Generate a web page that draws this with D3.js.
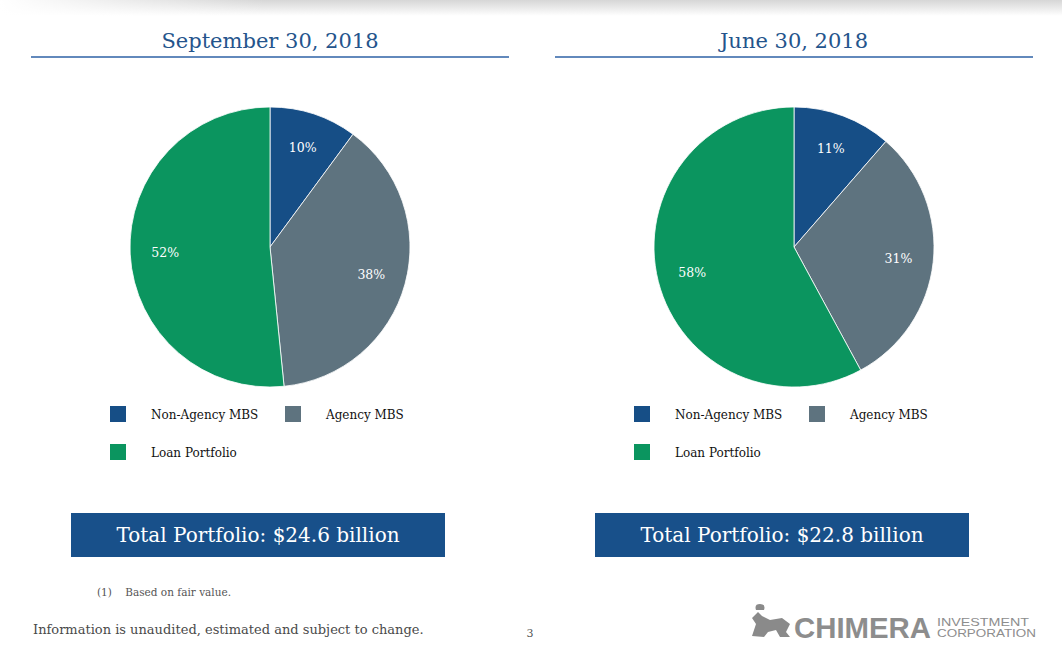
<!DOCTYPE html>
<html><head><meta charset="utf-8">
<script src="https://cdn.jsdelivr.net/npm/d3@7"></script>
<style>
html,body{margin:0;padding:0;background:#fff;}
svg{display:block;}
</style></head>
<body>
<svg id="c" width="1062" height="651"></svg>
<script>
const categories = ["Non-Agency MBS", "Agency MBS", "Loan Portfolio"];
const colors = ["#164e86", "#5e737f", "#0b955f"];
const panelTitles = ["September 30, 2018", "June 30, 2018"];
const sepValues = [10.1, 38.3, 51.6];
const junValues = [11.4, 30.7, 57.9];
const totals = ["Total Portfolio: $24.6 billion", "Total Portfolio: $22.8 billion"];
const footnote = "(1)    Based on fair value.";
const disclaimer = "Information is unaudited, estimated and subject to change.";
const pageNum = "3";

const serif = "Georgia, 'DejaVu Serif', serif";
const svg = d3.select("#c");

// top shadow
const defs = svg.append("defs");
const g0 = defs.append("linearGradient").attr("id","shadow").attr("x1",0).attr("x2",0).attr("y1",0).attr("y2",1);
g0.append("stop").attr("offset","0%").attr("stop-color","#d6d6d6");
g0.append("stop").attr("offset","100%").attr("stop-color","#ffffff");
const g1 = defs.append("linearGradient").attr("id","shadowH").attr("x1",0).attr("x2",1).attr("y1",0).attr("y2",0);
g1.append("stop").attr("offset","0%").attr("stop-color","#fff").attr("stop-opacity",1);
g1.append("stop").attr("offset","25%").attr("stop-color","#fff").attr("stop-opacity",0);
g1.append("stop").attr("offset","100%").attr("stop-color","#fff").attr("stop-opacity",0);
svg.append("rect").attr("x",0).attr("y",0).attr("width",1062).attr("height",16).attr("fill","url(#shadow)");
svg.append("rect").attr("x",0).attr("y",0).attr("width",1062).attr("height",16).attr("fill","url(#shadowH)");

const panels = [
  {cx: 270, values: sepValues, lineX0: 31, lineX1: 509, legX: 110, boxX: 71},
  {cx: 794, values: junValues, lineX0: 555, lineX1: 1033, legX: 634, boxX: 595}
];
const cy = 247, r = 140;
const color = d3.scaleOrdinal().domain(categories).range(colors);
const pie = d3.pie().sort(null).value(d => d.v);
const arc = d3.arc().innerRadius(0).outerRadius(r);
const labelArc = d3.arc().innerRadius(105).outerRadius(105);

panels.forEach((p, i) => {
  const g = svg.append("g");
  g.append("text").attr("x", (p.lineX0 + p.lineX1)/2).attr("y", 48)
    .attr("text-anchor","middle").attr("font-family", serif).attr("font-size", 21)
    .attr("fill","#24548c").text(panelTitles[i]);
  g.append("line").attr("x1", p.lineX0).attr("x2", p.lineX1).attr("y1", 57).attr("y2", 57)
    .attr("stroke","#2e62a6").attr("stroke-width", 1.6);

  const data = categories.map((c, k) => ({c, v: p.values[k]}));
  const arcs = pie(data);
  const pg = g.append("g").attr("transform", `translate(${p.cx},${cy})`);
  pg.selectAll("path").data(arcs).join("path")
    .attr("d", arc).attr("fill", d => color(d.data.c))
    .attr("stroke","#fff").attr("stroke-width", 0.8);
  pg.selectAll("text").data(arcs).join("text")
    .attr("transform", d => `translate(${labelArc.centroid(d)})`)
    .attr("text-anchor","middle").attr("dy","0.35em")
    .attr("font-family", serif).attr("font-size", 12.5).attr("fill","#fff")
    .text(d => Math.round(d.data.v) + "%");

  // legend
  const legPos = [[0, 0], [175, 0], [0, 38]];
  categories.forEach((c, k) => {
    const lx = p.legX + legPos[k][0], ly = 406 + legPos[k][1];
    g.append("rect").attr("x", lx).attr("y", ly).attr("width", 16).attr("height", 16).attr("fill", color(c));
    g.append("text").attr("x", lx + 41).attr("y", ly + 13).attr("font-family", serif)
      .attr("font-size", 12).attr("fill","#111").text(c);
  });

  // total box
  g.append("rect").attr("x", p.boxX).attr("y", 513).attr("width", 374).attr("height", 44)
    .attr("fill","#18508a");
  g.append("text").attr("x", p.boxX + 187).attr("y", 542).attr("text-anchor","middle")
    .attr("font-family", serif).attr("font-size", 20).attr("fill","#fff").text(totals[i]);
});

svg.append("text").attr("x", 97).attr("y", 596).attr("font-family", serif).attr("font-size", 10.5)
  .attr("fill","#555").attr("xml:space","preserve").style("white-space","pre").text(footnote);
svg.append("text").attr("x", 33).attr("y", 634).attr("font-family", serif).attr("font-size", 13)
  .attr("fill","#4a4a4a").text(disclaimer);
svg.append("text").attr("x", 530).attr("y", 637).attr("text-anchor","middle").attr("font-family", serif)
  .attr("font-size", 11).attr("fill","#555").text(pageNum);

// logo
const lg = svg.append("g").attr("fill","#8a8a8a");
lg.append("path").attr("d","M752,636 L756,624 L752,618 L758,612 L762,616 L770,620 L782,618 L790,624 L786,632 L790,637 L780,637 L776,630 L768,632 L764,637 Z M756,610 q-2,-6 4,-6 q6,0 4,6");
lg.append("text").attr("x", 794).attr("y", 638).attr("font-family","'Liberation Sans', Arial, sans-serif")
  .attr("font-size", 30).attr("font-weight", "bold").attr("fill","#8d8d8d").attr("textLength", 137)
  .attr("lengthAdjust","spacingAndGlyphs").text("CHIMERA");
lg.append("text").attr("x", 937).attr("y", 626).attr("font-family","'Liberation Sans', Arial, sans-serif")
  .attr("font-size", 11).attr("fill","#8d8d8d").attr("textLength", 92)
  .attr("lengthAdjust","spacingAndGlyphs").text("INVESTMENT");
lg.append("text").attr("x", 937).attr("y", 637).attr("font-family","'Liberation Sans', Arial, sans-serif")
  .attr("font-size", 11).attr("fill","#8d8d8d").attr("textLength", 99)
  .attr("lengthAdjust","spacingAndGlyphs").text("CORPORATION");
</script>
</body></html>
